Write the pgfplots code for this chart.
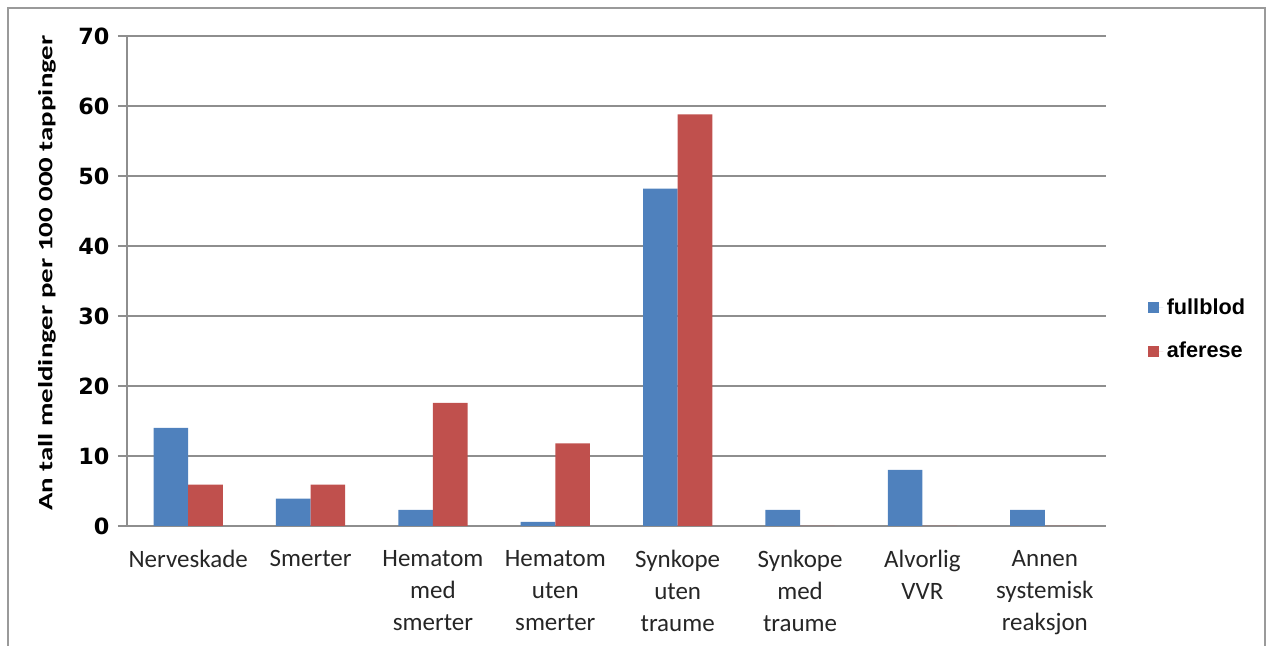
\documentclass[border=0pt]{standalone}
\usepackage{fontspec}
\usepackage{graphicx}
\usepackage{pgfplots}
\pgfplotsset{compat=1.18}
\setmainfont{Carlito}
\newfontfamily\tickfont{DejaVu Sans}
\newfontfamily\legfont{Liberation Sans}

\definecolor{fullblue}{HTML}{4F81BD}
\definecolor{aferred}{HTML}{C0504D}
\definecolor{gridgray}{HTML}{8E8E8E}
\definecolor{framegray}{HTML}{9A9A9A}

\begin{document}
\begin{tikzpicture}
  % page area and outer chart frame (1 px = 0.6 pt)
  \path[use as bounding box] (0pt,0pt) rectangle (762pt,387.6pt);
  \draw[framegray, line width=1.2pt] (4.8pt,-3pt) -- (4.8pt,382.8pt) -- (759pt,382.8pt) -- (759pt,-3pt);

  \begin{axis}[
    at={(76.2pt,72pt)}, anchor=south west,
    scale only axis,
    width=587.4pt, height=294pt,
    xmin=-0.5, xmax=7.5,
    ymin=0, ymax=70,
    ybar=0pt, bar width=20.8pt,
    xtick={0,...,7},
    xticklabels={Nerveskade, Smerter, {Hematom\\med\\smerter}, {Hematom\\uten\\smerter},
                 {Synkope\\uten\\traume}, {Synkope\\med\\traume}, {Alvorlig\\VVR},
                 {Annen\\systemisk\\reaksjon}},
    xticklabel style={font=\fontsize{15}{19.2}\selectfont, align=center, text=black!85, yshift=-5.8pt},
    major x tick style={draw=none},
    ytick={0,10,...,70},
    yticklabels={0,10,20,30,40,50,60,70},
    yticklabel style={font=\tickfont\bfseries\fontsize{13.4}{15}\selectfont, xshift=-1.6pt},
    tick align=outside,
    major tick length=5.4pt,
    ytick style={gridgray, line width=0.7pt},
    ymajorgrids,
    grid style={gridgray, line width=0.7pt},
    axis lines*=left,
    axis line style={gridgray, line width=0.8pt},
    ylabel={\scalebox{1.42}[1]{\bfseries\fontsize{12.2}{14}\selectfont An tall meldinger per 100 000 tappinger}},
    ylabel style={at={(axis description cs:-0.0817,0.516)}, anchor=center},
    legend style={at={(rel axis cs:1.043,0.401)}, anchor=west, draw=none, fill=none,
                  font=\legfont\bfseries\fontsize{13}{15}\selectfont,
                  row sep=11pt, inner sep=0pt},
    legend cell align=left,
    legend image code/.code={\fill[#1] (0pt,-3.3pt) rectangle (6.6pt,3.3pt);
                             \path (0pt,0pt) -- (9pt,0pt);},
  ]
    \addplot[fill=fullblue, draw=none] coordinates {
      (0,14.0) (1,3.9) (2,2.3) (3,0.6) (4,48.2) (5,2.3) (6,8.0) (7,2.3)};
    \addlegendentry{fullblod}
    \addplot[fill=aferred, draw=none] coordinates {
      (0,5.9) (1,5.9) (2,17.6) (3,11.8) (4,58.8) (5,0) (6,0) (7,0)};
    \addlegendentry{aferese}
  \end{axis}
\end{tikzpicture}
\end{document}
